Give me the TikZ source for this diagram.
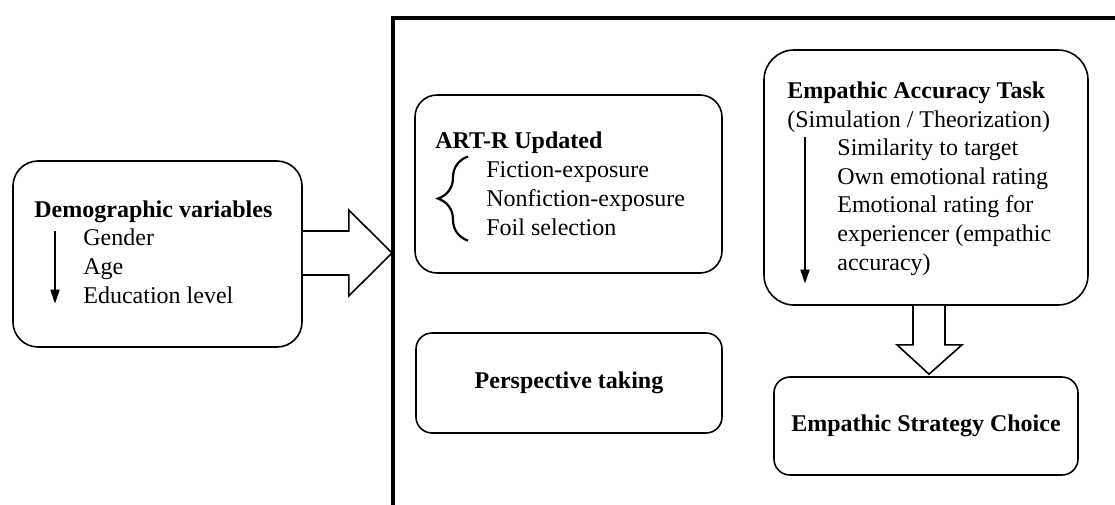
\documentclass[tikz,border=0pt]{standalone}
\usepackage{fontspec}
\setmainfont{Liberation Serif}
\usetikzlibrary{arrows.meta,calc,decorations.pathreplacing}

\tikzset{
  panel/.style={draw,line width=0.8pt,rounded corners=#1,inner sep=0pt},
  panel/.default=10pt,
  head/.style={font=\fontsize{12}{14.3}\selectfont\bfseries,inner sep=0pt},
  items/.style={font=\fontsize{12}{14.3}\selectfont,align=left,anchor=base west,inner sep=0pt},
  thinarrow/.style={-{Triangle[length=7pt,width=4.5pt]},line width=0.9pt},
  blockarrow/.style={draw,line width=0.8pt,fill=white,line join=miter}
}

\begin{document}
\begin{tikzpicture}[x=0.5pt,y=-0.5pt]
  \clip (0,0) rectangle (1115,504);

  % outer frame (only its left and top sides are in view)
  \draw[line width=2pt] (393,600) -- (393,18) -- (1300,18);

  % boxes
  \node[panel=12.5pt,minimum width=144.5pt,minimum height=93pt] (demo) at (157.5,254) {};
  \node[panel=11pt,minimum width=153.5pt,minimum height=89pt] (art) at (568.5,184) {};
  \node[panel=8pt,minimum width=153pt,minimum height=50pt] (persp) at (569,383) {};
  \node[panel=15pt,minimum width=162pt,minimum height=127.5pt] (eat) at (926,177.5) {};
  \node[panel=8pt,minimum width=152pt,minimum height=49pt] (choice) at (926,426) {};

  % demographic variables (items anchored at the baseline of their last line)
  \node[head,anchor=base west] (demotitle) at (34,217) {Demographic variables};
  \node[items] (demoitems) at (83,303) {Gender\\Age\\Education level};
  \draw[thinarrow] ($(demoitems.north west)+(-28,2)$) -- ($(demoitems.south west)+(-28,0)$);

  % ART-R
  \node[head,anchor=base west] (arttitle) at (435,148) {ART-R Updated};
  \node[items] (artitems) at (486,235) {Fiction-exposure\\Nonfiction-exposure\\Foil selection};
  \draw[decorate,decoration={brace,amplitude=15pt},line width=1.1pt]
    ($(artitems.south west)+(-18,5)$) -- ($(artitems.north west)+(-18,-5)$);

  % perspective taking
  \node[head] (persptext) at (persp.center) {Perspective taking};

  % empathic accuracy task
  \node[head,anchor=base west] (eattitle) at (787,98) {Empathic Accuracy Task};
  \node[items] (eatsub) at (787,127) {(Simulation / Theorization)};
  \node[items] (eatitems) at (837,270) {Similarity to target\\Own emotional rating\\Emotional rating for\\experiencer (empathic\\accuracy)};
  \draw[thinarrow] ($(eatitems.north west)+(-32,-2)$) -- ($(eatitems.south west)+(-32,8)$);

  % empathic strategy choice
  \node[head] (choicetext) at (choice.center) {Empathic Strategy Choice};

  % block arrows
  \coordinate (tip) at (392,253);
  \draw[blockarrow] ($(demo.east)+(0,-23)$) -- ++(46,0) -- ++(0,-21) -- (tip)
    -- ($(demo.east)+(46,42)$) -- ++(0,-21) -- ($(demo.east)+(0,21)$);
  \coordinate (dtop) at ($(eat.south)+(3,0)$);
  \coordinate (dtip) at ($(choice.north)+(3,-2)$);
  \draw[blockarrow] ($(dtop)+(-16,0)$) -- ++(0,39) -- ++(-16,0) -- (dtip)
    -- ($(dtop)+(33,39)$) -- ++(-17,0) -- ($(dtop)+(16,0)$);
\end{tikzpicture}
\end{document}
